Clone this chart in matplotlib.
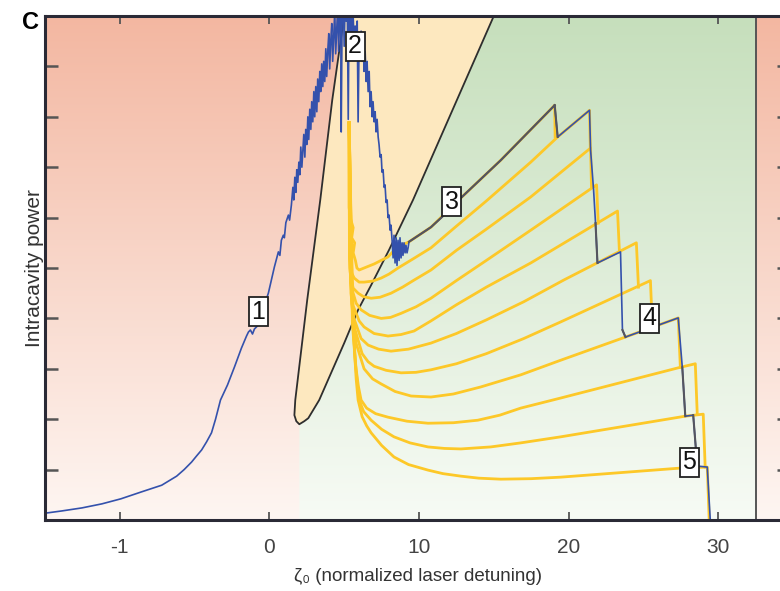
import numpy as np
import matplotlib
matplotlib.use("Agg")
from matplotlib import pyplot as plt
from matplotlib.patches import Polygon

plt.rcParams['font.family'] = ['Liberation Sans', 'DejaVu Sans']

# ---- scan trace (blue), detuning vs intracavity power ----
trace_x = [-1.487, -1.387, -1.253, -1.12, -0.993, -0.853, -0.72, -0.67, -0.62, -0.57, -0.52,
           -0.487, -0.453, -0.42, -0.387, -0.36, -0.327, -0.28, -0.233, -0.187, -0.153, -0.14,
           -0.127, -0.113, -0.1,
           -0.08, -0.067, -0.033, -0.007, 0.133, 0.333, 0.6, 0.7, 0.8, 0.93, 1.0, 1.1,
           1.27, 1.35, 1.47,
           # chaotic (MI) part rising
           1.57, 1.63, 1.70, 1.77, 1.83, 1.90, 1.97, 2.03, 2.10, 2.17, 2.23, 2.30, 2.37,
           2.43, 2.50, 2.57, 2.63, 2.70, 2.77, 2.83, 2.90, 2.97, 3.03, 3.10, 3.17, 3.23,
           3.30, 3.37, 3.43, 3.50, 3.57, 3.63, 3.70, 3.77, 3.83, 3.90, 3.97, 4.03, 4.10,
           4.17, 4.23, 4.30, 4.37, 4.43, 4.50, 4.57, 4.63, 4.70, 4.77, 4.80, 4.87, 4.93,
           5.00, 5.07, 5.13, 5.20, 5.27, 5.33, 5.40, 5.47, 5.53, 5.60, 5.67, 5.73, 5.80,
           5.87, 5.93, 6.00,
           # chaotic part falling
           6.07, 6.13, 6.20, 6.27, 6.33, 6.40, 6.47, 6.53, 6.60, 6.67, 6.73, 6.80, 6.87,
           6.93, 7.00, 7.07, 7.13, 7.20, 7.27, 7.33, 7.40, 7.47, 7.53, 7.60, 7.67, 7.73,
           7.80, 7.87, 7.93, 8.00, 8.07, 8.13, 8.20,
           8.27, 8.33, 8.40, 8.47, 8.53, 8.60, 8.67, 8.73, 8.80, 8.87, 8.93, 9.00, 9.07,
           9.13, 9.20, 9.27, 9.33,
           # soliton steps
           10.8, 11.6, 12.8, 15.47, 19.07, 19.27, 21.4, 21.47, 21.67, 21.8, 21.93, 23.47,
           23.6, 23.8, 27.33, 27.6, 27.8, 28.33, 28.6, 29.27, 29.47]
trace_y = [0.14, 0.18, 0.24, 0.32, 0.42, 0.56, 0.69, 0.78, 0.87, 1.0, 1.15,
           1.27, 1.39, 1.55, 1.73, 2.0, 2.38, 2.68, 3.04, 3.41, 3.65, 3.73,
           3.77, 3.69, 3.79,
           3.85, 4.0, 4.27, 4.5, 4.76, 5.02, 5.32, 5.25, 5.55, 5.65, 5.6, 5.9,
           6.05, 5.95, 6.25,
           6.6, 6.35, 6.8, 6.5, 6.95, 6.7, 7.1, 6.85, 7.4, 7.0, 7.3, 7.65, 7.2,
           7.75, 7.45, 8.0, 7.55, 8.15, 7.75, 8.3, 7.9, 8.5, 8.0, 8.6, 8.1, 8.75,
           8.3, 8.9, 8.5, 9.05, 8.6, 9.1, 8.7, 9.35, 8.8, 9.3, 9.65, 8.95, 9.5,
           9.85, 9.1, 9.6, 10.1, 9.25, 9.75, 10.2, 9.3, 10.1, 10.3, 7.7, 10.3, 10.5,
           9.4, 10.4, 9.9, 10.5, 7.95, 10.4, 9.6, 10.2, 9.5, 10.0, 9.4, 9.8, 9.7,
           9.9, 7.9, 9.6,
           9.2, 9.7, 9.1, 9.5, 8.9, 9.3, 8.7, 9.1, 8.5, 8.9, 8.2, 8.5, 8.0,
           8.3, 7.9, 8.1, 7.7, 7.95, 7.6, 7.45, 7.2, 7.25, 6.9, 6.95, 6.6, 6.65,
           6.3, 6.35, 6.0, 6.05, 5.75, 5.85, 5.55,
           5.2, 5.65, 5.1, 5.6, 5.05, 5.55, 5.15, 5.6, 5.2, 5.5, 5.25, 5.5, 5.3,
           5.45, 5.3, 5.4, 5.52,
           5.81, 6.03, 6.39, 7.14, 8.23, 7.6, 8.13, 7.34, 6.55, 5.89, 5.1, 5.32,
           3.77, 3.63, 4.01, 3.03, 2.06, 2.08, 1.07, 1.05, 0.0]

# parts of the trace sitting on a soliton branch (drawn dark grey), index ranges
n0 = trace_x.index(9.33)
step_ranges = [(n0, n0 + 6), (n0 + 5, n0 + 7), (n0 + 10, n0 + 12), (n0 + 13, n0 + 15),
               (n0 + 16, n0 + 18), (n0 + 18, n0 + 20)]

# ---- soliton branches (yellow), from many to few solitons ----
a_x = [5.33, 5.33, 5.4, 5.6, 5.5, 5.7, 5.6, 5.75, 5.85, 6.0, 6.33, 7.0, 7.93, 8.5, 9.33,
       10.8, 12.8, 15.47, 19.07, 19.1]
a_y = [7.88, 6.2, 6.0, 5.8, 5.6, 5.5, 5.3, 5.15, 5.0, 4.96, 5.0, 5.08, 5.22, 5.4, 5.52,
       5.81, 6.39, 7.14, 8.23, 7.6]
b_x = [5.33, 5.35, 5.42, 5.5, 5.67, 6.0, 6.33, 6.9, 7.47, 8.0, 8.6, 9.6, 10.8, 12.5, 14.5,
       17.47, 19.27, 21.4, 21.45]
b_y = [7.88, 5.5, 5.1, 4.9, 4.8, 4.72, 4.72, 4.74, 4.8, 4.88, 5.0, 5.18, 5.4, 5.83, 6.33,
       7.10, 7.6, 8.13, 7.38]
c_x = [5.33, 5.35, 5.42, 5.6, 5.93, 6.3, 6.8, 7.4, 8.13, 8.9, 9.67, 10.8, 12.5, 14.5, 17.47,
       21.47, 21.53]
c_y = [7.88, 5.2, 4.85, 4.6, 4.5, 4.43, 4.4, 4.42, 4.5, 4.62, 4.76, 4.96, 5.35, 5.77, 6.41,
       7.38, 6.6]
d_x = [5.33, 5.38, 5.5, 5.8, 6.13, 6.7, 7.47, 8.1, 8.8, 9.8, 10.8, 12.5, 14.5, 17.47, 21.87,
       21.98]
d_y = [7.88, 5.0, 4.6, 4.3, 4.17, 4.06, 4.0, 4.02, 4.1, 4.23, 4.4, 4.75, 5.15, 5.75, 6.65,
       5.89]
e_x = [5.33, 5.42, 5.6, 6.0, 6.33, 7.0, 7.93, 8.8, 9.67, 10.8, 12.5, 14.5, 17.47, 23.27, 23.4]
e_y = [7.88, 4.7, 4.25, 3.95, 3.83, 3.7, 3.65, 3.68, 3.75, 3.95, 4.27, 4.62, 5.1, 6.13, 5.31]
f_x = [5.33, 5.45, 5.65, 6.13, 6.6, 7.3, 8.13, 9.3, 10.8, 12.5, 14.5, 17.0, 19.67, 24.53,
       24.67]
f_y = [7.88, 4.5, 4.0, 3.6, 3.47, 3.39, 3.35, 3.39, 3.51, 3.7, 3.97, 4.33, 4.76, 5.5, 4.62]
g_x = [5.33, 5.5, 5.7, 6.2, 6.6, 7.0, 7.8, 8.8, 9.8, 10.8, 12.5, 14.5, 17.0, 19.47, 25.47,
       25.6]
g_y = [7.88, 4.3, 3.8, 3.3, 3.14, 3.05, 2.97, 2.92, 2.93, 2.98, 3.1, 3.3, 3.6, 3.93, 4.75,
       3.82]
h_x = [5.33, 5.55, 5.8, 6.33, 6.9, 7.47, 8.4, 9.47, 10.8, 12.3, 14.13, 16.8, 19.47, 23.8,
       27.33, 27.47]
h_y = [7.88, 4.1, 3.5, 3.0, 2.8, 2.7, 2.55, 2.46, 2.44, 2.5, 2.64, 2.88, 3.17, 3.63, 4.01,
       3.03]
i_x = [5.33, 5.55, 5.75, 5.95, 6.13, 6.5, 7.1, 7.93, 9.2, 10.6, 12.3, 13.93, 15.4, 16.8,
       19.47, 27.47, 28.47, 28.6]
i_y = [7.88, 3.9, 3.1, 2.65, 2.38, 2.22, 2.11, 2.04, 1.96, 1.92, 1.93, 1.98, 2.08, 2.22,
       2.42, 3.03, 3.1, 2.1]
j_x = [5.33, 5.6, 5.8, 6.0, 6.3, 6.8, 7.5, 8.33, 9.4, 10.6, 11.7, 12.8, 14.8, 16.8, 19.47,
       27.8, 29.0, 29.13]
j_y = [7.88, 3.8, 2.95, 2.38, 2.15, 1.98, 1.8, 1.65, 1.53, 1.45, 1.42, 1.41, 1.45, 1.53, 1.65,
       2.06, 2.1, 1.05]
k_x = [5.33, 5.55, 5.7, 5.8, 5.93, 6.2, 6.5, 6.8, 7.5, 8.33, 9.3, 10.6, 11.6, 12.8, 14.0,
       15.47, 17.5, 19.47, 27.47, 29.27, 29.4]
k_y = [7.88, 4.3, 3.3, 2.8, 2.38, 2.05, 1.87, 1.73, 1.48, 1.25, 1.1, 0.99, 0.92, 0.87, 0.83,
       0.81, 0.82, 0.85, 1.03, 1.05, 0.0]
branches = [(a_x, a_y), (b_x, b_y), (c_x, c_y), (d_x, d_y), (e_x, e_y), (f_x, f_y),
            (g_x, g_y), (h_x, h_y), (i_x, i_y), (j_x, j_y), (k_x, k_y)]

# ---- bistability boundary ----
left_x = [5.0, 4.2, 3.4, 2.53, 1.73, 1.67, 1.8, 2.0]
left_y = [10.0, 8.33, 6.35, 4.37, 2.38, 2.08, 1.96, 1.90]
right_x = [2.0, 2.33, 2.6, 3.33, 5.0, 5.93, 6.8, 8.0, 9.6, 15.0]
right_y = [1.90, 1.96, 2.02, 2.38, 3.51, 4.17, 4.66, 5.36, 6.35, 10.0]
x_edge = 32.5

labels = ['1', '2', '3', '4', '5']
label_x = [-0.073, 5.73, 12.2, 25.4, 28.07]
label_y = [4.13, 9.4, 6.31, 4.0, 1.15]

xticks = [-1, 0, 10, 20, 30]

fig = plt.figure(figsize=(7.8, 5.91), dpi=100)
ax = fig.add_axes([45 / 780, 71 / 591, 745 / 780, 504 / 591])

# x axis: the negative part is stretched ten times
def fwd(x):
    x = np.asarray(x, dtype=float)
    return np.where(x < 0, 10 * x, x)

def inv(x):
    x = np.asarray(x, dtype=float)
    return np.where(x < 0, x / 10, x)

ax.set_xscale('function', functions=(fwd, inv))

# background gradients
t = np.linspace(0, 1, 256)[:, None]
red_top = np.array([243, 183, 161]) / 255
red_bot = np.array([254, 246, 242]) / 255
grn_top = np.array([198, 223, 188]) / 255
grn_bot = np.array([247, 251, 245]) / 255
red_img = (red_top * (1 - t) + red_bot * t)[:, None, :]
grn_img = (grn_top * (1 - t) + grn_bot * t)[:, None, :]
ax.imshow(red_img, extent=[0, 1, 0, 1], transform=ax.transAxes, aspect='auto', zorder=0,
          interpolation='bilinear')
gim = ax.imshow(grn_img, extent=[0, 1, 0, 1], transform=ax.transAxes, aspect='auto',
                zorder=0.1, interpolation='bilinear')
gx = [2.0] + right_x + [x_edge, x_edge, 2.0]
gy = [0.0] + right_y + [10.0, 0.0, 0.0]
gpoly = Polygon(np.column_stack([gx, gy]), closed=True, transform=ax.transData,
                fc='none', ec='none')
ax.add_patch(gpoly)
gim.set_clip_path(gpoly)

ox = left_x + right_x[1:]
oy = left_y + right_y[1:]
ax.fill(ox, oy, color='#fde8bf', zorder=1, lw=0)
ax.plot(ox, oy, color='#2e2e2e', lw=1.3, zorder=2)
ax.axvline(x_edge, color='#555555', lw=1.4, zorder=2)

for bx, by in branches:
    ax.plot(bx, by, color='#fdc828', lw=2.0, zorder=3, solid_joinstyle='round')

ax.plot(trace_x, trace_y, color='#3451ac', lw=1.2, zorder=4)
for s, e in step_ranges:
    ax.plot(trace_x[s:e], trace_y[s:e], color='#55555e', lw=1.5, zorder=5)

for lab, lx, ly in zip(labels, label_x, label_y):
    ax.text(lx, ly, lab, ha='center', va='center', fontsize=18, color='#111111', zorder=7,
            bbox=dict(boxstyle='square,pad=0.1', fc='white', ec='#222222', lw=1.3))

ax.set_xlim(-1.5, 34.8)
ax.set_ylim(0, 10)
ax.set_xticks(xticks)
ax.set_xticklabels([str(v) for v in xticks])
ax.set_yticks(range(1, 10))
ax.tick_params(axis='x', which='both', direction='in', length=6, width=1.3, colors='#555555',
               top=True, bottom=True, labelsize=15, labelcolor='#444444', pad=13)
ax.tick_params(axis='y', direction='in', length=9.5, width=1.8, colors='#555555',
               left=True, right=True, labelleft=False)
ax.minorticks_off()
for side in ['left', 'top', 'bottom', 'right']:
    ax.spines[side].set_linewidth(2.2)
    ax.spines[side].set_color('#2a2a36')
    ax.spines[side].set_zorder(10)

ax.set_xlabel('ζ₀ (normalized laser detuning)', fontsize=13.5, color='#333333', labelpad=8)
ax.set_ylabel('Intracavity power', fontsize=15, color='#333333', labelpad=1)
fig.text(0.028, 0.962, 'C', fontsize=17, fontweight='bold', ha='left', va='center')

fig.savefig('out.png', dpi=100)
